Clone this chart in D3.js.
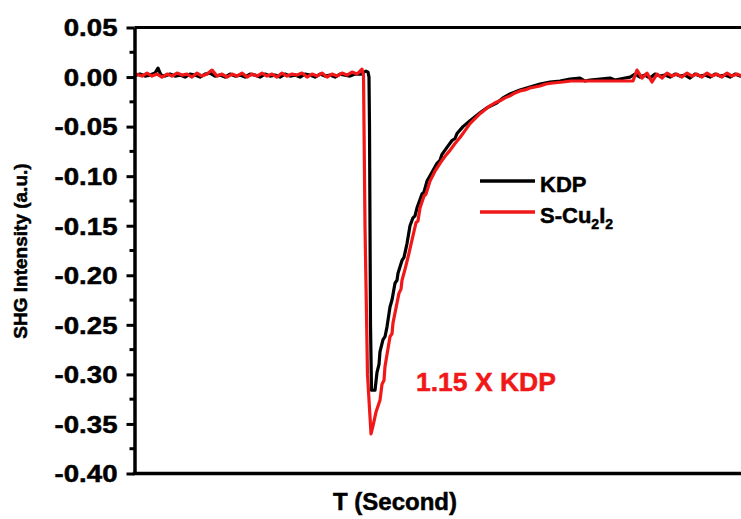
<!DOCTYPE html>
<html><head><meta charset="utf-8">
<script src="https://cdn.jsdelivr.net/npm/d3@7"></script>
<style>
body{margin:0;background:#fff}
svg{display:block}
text{font-family:"Liberation Sans",Arial,sans-serif;font-weight:bold;stroke-width:0.5px}
</style>
</head><body>
<svg id="chart" width="741" height="519"></svg>
<script>
// ---- data (time in arbitrary units, intensity in a.u.) ----
const yTicks = [0.05, 0.00, -0.05, -0.10, -0.15, -0.20, -0.25, -0.30, -0.35, -0.40];
const yTickLabels = ["0.05", "0.00", "-0.05", "-0.10", "-0.15", "-0.20", "-0.25", "-0.30", "-0.35", "-0.40"];
const yMinorTicks = [0.025, -0.025, -0.075, -0.125, -0.175, -0.225, -0.275, -0.325, -0.375];
const seriesNames = ["KDP", "S-Cu2I2"];
const seriesColors = ["#000000", "#f01818"];

const kdpData = [
  [1,0.002],[5,0.003],[10,0.001],[15,0.002],[20,0.004],[23,0.009],[26,0.002],[30,0.001],[35,0.003],[40,0.001],
  [45,0.002],[50,0.000],[55,0.003],[60,0.002],[65,0.000],[70,0.003],[75,0.004],[80,0.001],[85,0.002],[90,0.000],
  [95,0.003],[100,0.001],[105,0.002],[110,0.000],[115,0.003],[120,0.002],[125,0.000],[130,0.003],[135,0.001],[140,0.002],
  [145,0.000],[150,0.003],[155,0.001],[160,0.002],[165,0.000],[170,0.003],[175,0.002],[180,0.000],[185,0.003],[190,0.001],
  [195,0.002],[200,0.000],[205,0.003],[210,0.002],[215,0.001],[220,0.003],[226,0.003],[229,0.005],[231,0.006],[233,0.005],
  [234,0.000],[234.5,-0.05],[235.5,-0.25],[236.5,-0.316],[240,-0.316],[242,-0.298],[244,-0.290],[245,-0.277],[248,-0.265],
  [250,-0.262],[252,-0.252],[255,-0.232],[257,-0.225],[260,-0.208],[262,-0.205],[263,-0.198],[267,-0.185],[269,-0.182],
  [272,-0.168],[275,-0.150],[278,-0.142],[280,-0.140],[282,-0.132],[287,-0.118],[289,-0.116],[292,-0.105],[297,-0.096],
  [302,-0.087],[305,-0.084],[307,-0.078],[312,-0.071],[317,-0.064],[320,-0.062],[322,-0.057],[328,-0.050],[335,-0.044],
  [340,-0.040],[345,-0.036],[352,-0.031],[362,-0.026],[368,-0.021],[375,-0.017],[385,-0.013],[395,-0.010],
  [405,-0.007],[415,-0.005],[425,-0.004],[435,-0.002],[445,-0.001],[450,-0.004],[455,-0.003],[465,-0.002],[475,-0.001],
  [480,-0.003],[490,-0.001],[495,0.000],[500,0.003],[505,0.000],[510,0.002],[515,-0.001],[520,0.003],[525,0.001],
  [530,0.002],[535,0.000],[540,0.003],[545,0.001],[550,0.002],[555,-0.001],[560,0.003],[565,0.001],[570,0.002],
  [575,0.000],[580,0.003],[585,0.001],[590,0.002],[595,0.000],[600,0.003],[605,0.001],[612,0.002]
];

const cuData = [
  [1,0.003],[7,0.001],[12,0.004],[17,0.001],[22,0.003],[27,0.000],[32,0.003],[37,0.001],[42,0.004],[47,0.002],
  [52,0.003],[57,0.000],[62,0.004],[67,0.001],[72,0.003],[77,0.007],[82,0.001],[87,0.003],[92,0.000],[97,0.003],
  [102,0.001],[107,0.004],[112,0.000],[117,0.003],[122,0.001],[127,0.004],[132,0.001],[137,0.003],[142,0.000],[147,0.004],
  [152,0.001],[157,0.003],[162,0.002],[167,0.004],[172,0.000],[177,0.003],[182,0.001],[187,0.004],[192,0.000],[197,0.003],
  [202,0.001],[207,0.004],[212,0.002],[217,0.005],[222,0.003],[227,0.008],[228.5,0.002],[230,-0.15],[232.5,-0.30],
  [236,-0.360],[238,-0.352],[241,-0.338],[245,-0.326],[247,-0.310],[249,-0.306],[250,-0.292],[252,-0.280],[255,-0.262],
  [257,-0.259],[258,-0.248],[262,-0.228],[264,-0.218],[266,-0.214],[267,-0.205],[270,-0.194],[273,-0.182],[278,-0.160],
  [281,-0.147],[283,-0.145],[285,-0.132],[289,-0.120],[291,-0.118],[295,-0.105],[300,-0.095],[305,-0.087],[310,-0.080],
  [315,-0.074],[320,-0.067],[325,-0.061],[330,-0.054],[335,-0.047],[340,-0.042],[345,-0.037],[350,-0.033],[355,-0.029],
  [360,-0.026],[365,-0.024],[370,-0.021],[375,-0.019],[380,-0.016],[385,-0.014],[390,-0.013],[395,-0.011],[400,-0.010],
  [405,-0.009],[411,-0.007],[418,-0.006],[428,-0.005],[436,-0.004],[498,-0.004],[502,0.007],[507,-0.001],[512,0.004],
  [517,-0.005],[522,0.003],[527,-0.001],[532,0.004],[537,0.001],[542,0.003],[547,0.000],[552,0.004],[557,0.001],
  [562,0.003],[567,0.000],[572,0.004],[577,0.001],[582,0.003],[587,0.000],[592,0.004],[597,0.001],[602,0.003],
  [607,0.001],[612,0.002]
];

const seriesData = [kdpData, cuData];

// ---- layout ----
const svg = d3.select("#chart");
const x = d3.scaleLinear().domain([0, 610]).range([135, 745]);
const y = d3.scaleLinear().domain([-0.40, 0.05]).range([473.5, 27.5]);
const axisX = 134.5;

// lines
const line = d3.line().x(d => x(d[0])).y(d => y(d[1]));
seriesData.forEach((data, i) => {
  svg.append("path").datum(data)
    .attr("d", line)
    .attr("fill", "none")
    .attr("stroke", seriesColors[i])
    .attr("stroke-width", 3.2)
    .attr("stroke-linejoin", "round");
});

// frame lines
svg.append("line").attr("x1", axisX).attr("x2", 745).attr("y1", y(0.05)).attr("y2", y(0.05))
  .attr("stroke", "#000").attr("stroke-width", 3);
svg.append("line").attr("x1", axisX - 1.75).attr("x2", 745).attr("y1", y(-0.40)).attr("y2", y(-0.40))
  .attr("stroke", "#000").attr("stroke-width", 3.5);

// y axis
const yAxis = d3.axisLeft(y)
  .tickValues(yTicks)
  .tickFormat((d, i) => yTickLabels[i])
  .tickSize(8)
  .tickSizeOuter(0);
const gY = svg.append("g").attr("transform", `translate(${axisX},0)`).call(yAxis);
gY.select(".domain").attr("stroke", "#000").attr("stroke-width", 3.5);
gY.selectAll(".tick line").attr("stroke", "#000").attr("stroke-width", 3);
gY.selectAll(".tick text")
  .attr("x", null).attr("dy", null)
  .attr("dominant-baseline", "central")
  .attr("fill", "#000").attr("stroke", "#000")
  .style("font-size", "24px")
  .attr("text-anchor", "end")
  .attr("transform", "translate(-17,0) scale(1.15,1)");
gY.attr("font-family", null).attr("font-size", null);

// minor ticks
svg.append("g").selectAll("line").data(yMinorTicks).join("line")
  .attr("x1", axisX - 5).attr("x2", axisX)
  .attr("y1", d => y(d)).attr("y2", d => y(d))
  .attr("stroke", "#000").attr("stroke-width", 3);

// axis titles
svg.append("text")
  .attr("transform", "translate(27,251) rotate(-90)")
  .attr("text-anchor", "middle")
  .attr("stroke", "#000")
  .style("font-size", "19px")
  .text("SHG Intensity (a.u.)");
svg.append("text")
  .attr("x", 395).attr("y", 510)
  .attr("text-anchor", "middle")
  .attr("stroke", "#000")
  .style("font-size", "24px")
  .text("T (Second)");

// legend
const legend = svg.append("g");
const legY = [181, 212];
seriesNames.forEach((name, i) => {
  legend.append("line")
    .attr("x1", 480).attr("x2", 535).attr("y1", legY[i]).attr("y2", legY[i])
    .attr("stroke", seriesColors[i]).attr("stroke-width", 3.5);
  const t = legend.append("text")
    .attr("x", 540).attr("y", legY[i] + 11)
    .style("font-size", "22px").attr("fill", "#000").attr("stroke", "#000");
  const m = name.match(/^(S-Cu)2(I)2$/);
  if (m) {
    t.append("tspan").text(m[1]);
    t.append("tspan").attr("dy", 6).style("font-size", "14px").text("2");
    t.append("tspan").attr("dy", -6).text(m[2]);
    t.append("tspan").attr("dy", 6).style("font-size", "14px").text("2");
  } else {
    t.text(name);
  }
});

// annotation
svg.append("text")
  .attr("x", 416).attr("y", 391)
  .style("font-size", "26.5px")
  .attr("fill", seriesColors[1]).attr("stroke", seriesColors[1])
  .text("1.15 X KDP");
</script>
</body></html>
